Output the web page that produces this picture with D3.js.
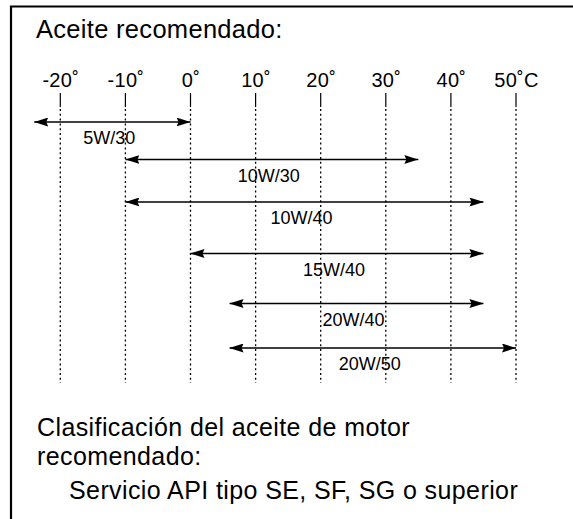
<!DOCTYPE html>
<html>
<head>
<meta charset="utf-8">
<script src="https://cdn.jsdelivr.net/npm/d3@7"></script>
<style>
  html, body { margin: 0; padding: 0; background: #fff; }
  svg { display: block; }
  text { font-family: "Liberation Sans", Arial, Helvetica, sans-serif; fill: #000; }
</style>
</head>
<body>
<svg id="chart" width="573" height="519"></svg>
<script>
// Temperature axis (°C)
const tickValues = [-20, -10, 0, 10, 20, 30, 40, 50];
const tickLabels = ["-20˚", "-10˚", "0˚", "10˚", "20˚", "30˚", "40˚", "50˚C"];

// Viscosity grades and their usable ambient temperature ranges (°C)
const grades  = ["5W/30", "10W/30", "10W/40", "15W/40", "20W/40", "20W/50"];
const minTemp = [-24, -10, -10, 0, 6, 6];
const maxTemp = [0, 35, 45, 45, 45, 50];

const title = "Aceite recomendado:";
const noteLines = ["Clasificación del aceite de motor", "recomendado:"];
const serviceLine = "Servicio API tipo SE, SF, SG o superior";

const svg = d3.select("#chart");

// Frame (open to the right and bottom)
svg.append("path")
  .attr("d", "M11,519 V6.5 H573")
  .attr("fill", "none")
  .attr("stroke", "#000")
  .attr("stroke-width", 2.2);

const x = d3.scaleLinear().domain([-20, 50]).range([60.3, 516]);
const y = d3.scaleOrdinal().domain(grades).range([122, 159.5, 202, 253.5, 303.5, 348]);

// Title
svg.append("text")
  .attr("x", 36).attr("y", 38)
  .style("font-size", "25.5px").style("letter-spacing", "0.3px")
  .text(title);

// Axis: labels above, short solid ticks, dotted guides below
const axis = d3.axisTop(x)
  .tickValues(tickValues)
  .tickFormat((d, i) => tickLabels[i])
  .tickSize(0)
  .tickPadding(0);

const axisG = svg.append("g").attr("transform", "translate(0,87)").call(axis);
axisG.select(".domain").remove();
axisG.selectAll(".tick text")
  .attr("y", 0).attr("dy", 0)
  .attr("fill", "#000")
  .style("font-family", "\"Liberation Sans\", Arial, sans-serif")
  .style("font-size", "20px").style("letter-spacing", "0.3px");

const guides = svg.append("g");
guides.selectAll("line.solid").data(tickValues).join("line")
  .attr("class", "solid")
  .attr("x1", d => x(d)).attr("x2", d => x(d))
  .attr("y1", 93).attr("y2", 107)
  .attr("stroke", "#000").attr("stroke-width", 1.2);
guides.selectAll("line.dot").data(tickValues).join("line")
  .attr("class", "dot")
  .attr("x1", d => x(d)).attr("x2", d => x(d))
  .attr("y1", 109).attr("y2", 383)
  .attr("stroke", "#000").attr("stroke-width", 1.3)
  .attr("stroke-dasharray", "2,2.8");

// Arrowhead markers
const defs = svg.append("defs");
defs.append("marker")
  .attr("id", "headEnd").attr("viewBox", "0 0 14 9")
  .attr("refX", 14).attr("refY", 4.5)
  .attr("markerWidth", 14).attr("markerHeight", 9)
  .attr("markerUnits", "userSpaceOnUse").attr("orient", "auto")
  .append("path").attr("d", "M0,0 L14,4.5 L0,9 L2,4.5 Z").attr("fill", "#000");
defs.append("marker")
  .attr("id", "headStart").attr("viewBox", "0 0 14 9")
  .attr("refX", 0).attr("refY", 4.5)
  .attr("markerWidth", 14).attr("markerHeight", 9)
  .attr("markerUnits", "userSpaceOnUse").attr("orient", "auto")
  .append("path").attr("d", "M14,0 L0,4.5 L14,9 L12,4.5 Z").attr("fill", "#000");

const rows = grades.map((g, i) => ({ grade: g, lo: minTemp[i], hi: maxTemp[i] }));

const rowG = svg.append("g").selectAll("g").data(rows).join("g");
rowG.append("line")
  .attr("x1", d => x(d.lo)).attr("x2", d => x(d.hi))
  .attr("y1", d => y(d.grade)).attr("y2", d => y(d.grade))
  .attr("stroke", "#000").attr("stroke-width", 1.4)
  .attr("marker-start", "url(#headStart)")
  .attr("marker-end", "url(#headEnd)");
rowG.append("text")
  .attr("x", d => x((d.lo + d.hi) / 2) - 3)
  .attr("y", d => y(d.grade) + 22)
  .attr("text-anchor", "middle")
  .style("font-size", "18px")
  .text(d => d.grade);

// Oil classification note
svg.append("g").selectAll("text").data(noteLines).join("text")
  .attr("x", 37).attr("y", (d, i) => 436 + i * 29)
  .style("font-size", "25px").style("letter-spacing", "0.4px")
  .text(d => d);
svg.append("text")
  .attr("x", 69).attr("y", 499)
  .style("font-size", "25px").style("letter-spacing", "0.4px")
  .text(serviceLine);
</script>
</body>
</html>
